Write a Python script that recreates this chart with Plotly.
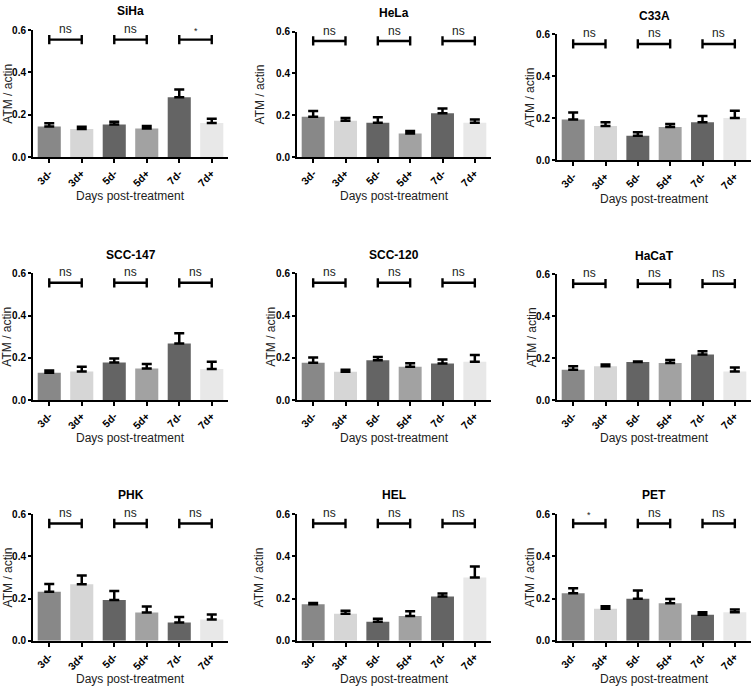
import plotly.graph_objects as go

# ---------------- data ----------------
categories = ["3d-", "3d+", "5d-", "5d+", "7d-", "7d+"]
cell_lines = ["SiHa", "HeLa", "C33A", "SCC-147", "SCC-120", "HaCaT", "PHK", "HEL", "PET"]

siha_mean = [0.145, 0.133, 0.155, 0.136, 0.283, 0.162]
siha_err = [0.016, 0.011, 0.013, 0.012, 0.037, 0.020]
hela_mean = [0.193, 0.175, 0.165, 0.114, 0.210, 0.165]
hela_err = [0.028, 0.012, 0.026, 0.011, 0.023, 0.015]
c33a_mean = [0.194, 0.164, 0.117, 0.159, 0.181, 0.202]
c33a_err = [0.034, 0.017, 0.017, 0.014, 0.030, 0.034]
scc147_mean = [0.129, 0.135, 0.178, 0.149, 0.268, 0.147]
scc147_err = [0.011, 0.022, 0.019, 0.022, 0.048, 0.034]
scc120_mean = [0.176, 0.134, 0.188, 0.157, 0.173, 0.181]
scc120_err = [0.025, 0.009, 0.016, 0.017, 0.019, 0.032]
hacat_mean = [0.144, 0.161, 0.181, 0.177, 0.217, 0.136]
hacat_err = [0.017, 0.009, 0.003, 0.014, 0.016, 0.019]
phk_mean = [0.232, 0.267, 0.193, 0.134, 0.086, 0.101]
phk_err = [0.037, 0.042, 0.043, 0.028, 0.026, 0.023]
hel_mean = [0.173, 0.128, 0.090, 0.117, 0.210, 0.300]
hel_err = [0.006, 0.014, 0.014, 0.023, 0.014, 0.051]
pet_mean = [0.225, 0.152, 0.199, 0.177, 0.123, 0.135]
pet_err = [0.024, 0.011, 0.039, 0.021, 0.012, 0.013]

means = [siha_mean, hela_mean, c33a_mean, scc147_mean, scc120_mean,
         hacat_mean, phk_mean, hel_mean, pet_mean]
errs = [siha_err, hela_err, c33a_err, scc147_err, scc120_err,
        hacat_err, phk_err, hel_err, pet_err]

# significance labels for the three comparisons (3d, 5d, 7d) per panel
sig_labels = [
    ["ns", "ns", "*"], ["ns", "ns", "ns"], ["ns", "ns", "ns"],
    ["ns", "ns", "ns"], ["ns", "ns", "ns"], ["ns", "ns", "ns"],
    ["ns", "ns", "ns"], ["ns", "ns", "ns"], ["*", "ns", "ns"],
]
y_ticks = [0.0, 0.2, 0.4, 0.6]
y_tick_text = ["0.0", "0.2", "0.4", "0.6"]

# ---------------- style ----------------
bar_colors = ["#888888", "#d6d6d6", "#646464", "#a2a2a2", "#646464", "#e8e8e8"]
FONT = "Arial, Liberation Sans, sans-serif"
W, H = 752, 690

# pixel layout of each panel: x_left, x_right, y_top (0.6), y_bottom (0.0), ytitle_x
panel_px = [
    (33, 228, 24.5, 154, 8), (297, 491, 26, 154, 260), (557, 751, 29, 157, 530),
    (33, 228, 272, 401, 7), (297, 491, 272, 401, 271), (557, 751, 273, 401, 532),
    (33, 228, 517, 646, 8), (297, 491, 517, 646, 259), (557, 751, 517, 646, 530),
]

fig = go.Figure()
annotations = []
shapes = []

for i, name in enumerate(cell_lines):
    xl, xr, yt, yb, ytx = panel_px[i]
    sfx = "" if i == 0 else str(i + 1)
    xa, ya = "x" + sfx, "y" + sfx
    fig.add_trace(go.Bar(
        x=categories, y=means[i], xaxis=xa, yaxis=ya,
        marker=dict(color=bar_colors, line=dict(width=0)),
        error_y=dict(type="data", array=errs[i], arrayminus=[0] * 6,
                     symmetric=False, color="black", thickness=2.5, width=5),
        showlegend=False, hoverinfo="skip",
    ))
    fig.layout["xaxis" + sfx] = dict(
        domain=[xl / W, xr / W], anchor=ya, type="category",
        range=[-0.5, 5.5], showline=True, linecolor="black", linewidth=2,
        ticks="outside", ticklen=4, tickwidth=2, tickcolor="black",
        tickangle=-45, showgrid=False, zeroline=False,
        tickfont=dict(family=FONT, size=10.5, color="black", weight="bold"),
    )
    fig.layout["yaxis" + sfx] = dict(
        domain=[1 - yb / H, 1 - yt / H], anchor=xa,
        range=[0, 0.6], showline=True, linecolor="black", linewidth=2,
        ticks="outside", ticklen=3, tickwidth=2, tickcolor="black",
        tickvals=y_ticks, ticktext=y_tick_text, showgrid=False, zeroline=False,
        tickfont=dict(family=FONT, size=10, color="black", weight="bold"),
    )
    # panel title
    annotations.append(dict(
        x=(xl + xr) / 2 / W, y=1 - (yt - 19) / H, xref="paper", yref="paper",
        text="<b>" + name + "</b>", showarrow=False, xanchor="center", yanchor="middle",
        font=dict(family=FONT, size=12, color="black"),
    ))
    # x axis title
    annotations.append(dict(
        x=(xl + xr) / 2 / W, y=1 - (yb + 39) / H, xref="paper", yref="paper",
        text="Days post-treatment", showarrow=False, xanchor="center", yanchor="middle",
        font=dict(family=FONT, size=12, color="#222222"),
    ))
    # y axis title
    annotations.append(dict(
        x=ytx / W, y=1 - (yt + yb) / 2 / H, xref="paper", yref="paper",
        text="ATM / actin", textangle=-90, showarrow=False,
        xanchor="center", yanchor="middle",
        font=dict(family=FONT, size=12, color="#222222"),
    ))
    # significance brackets
    for k in range(3):
        a, b = 2 * k, 2 * k + 1
        ln = dict(color="black", width=2.4)
        shapes.append(dict(type="line", xref=xa, yref=ya, x0=a, x1=b,
                           y0=0.555, y1=0.555, line=ln))
        for xx in (a, b):
            shapes.append(dict(type="line", xref=xa, yref=ya, x0=xx, x1=xx,
                               y0=0.533, y1=0.577, line=ln))
        lab = sig_labels[i][k]
        annotations.append(dict(
            x=(a + b) / 2, y=0.562, xref=xa, yref=ya, text=lab, showarrow=False,
            xanchor="center", yanchor="bottom",
            font=dict(family=FONT, size=12 if lab == "ns" else 9, color="#222222"),
        ))

fig.update_layout(
    width=W, height=H, margin=dict(l=0, r=0, t=0, b=0),
    plot_bgcolor="white", paper_bgcolor="white",
    bargap=0.29, annotations=annotations, shapes=shapes,
)

fig.write_html("out.html", config={"displayModeBar": False},
               post_script="document.body.style.margin='0';document.body.style.overflow='hidden';")
